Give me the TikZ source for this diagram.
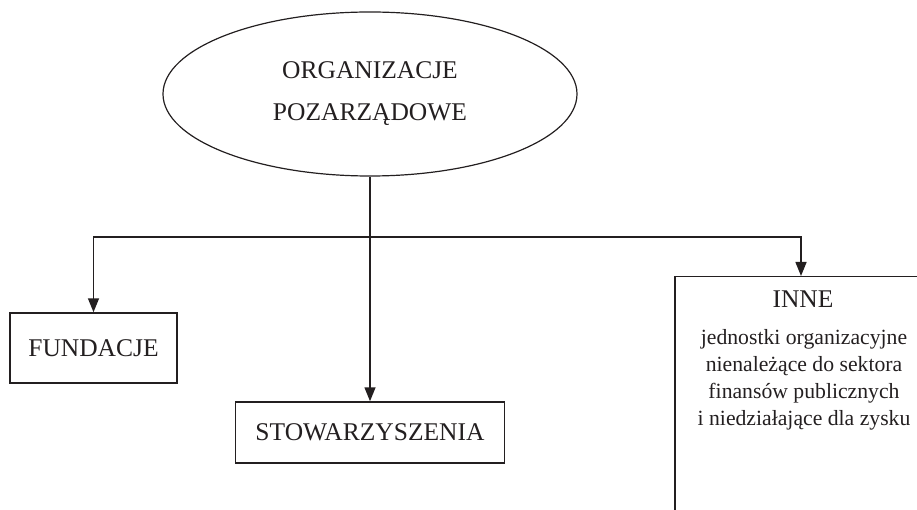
\documentclass[tikz,border=0pt]{standalone}
\usepackage{fontspec}
\setmainfont{Liberation Serif}
\usetikzlibrary{shapes.geometric,arrows.meta}
\begin{document}
\begin{tikzpicture}[x=1pt,y=-1pt,
  line width=1.5pt, draw={rgb,255:red,35;green,31;blue,32},
  bigtext/.style={font=\fontsize{25.5}{42}\selectfont, text={rgb,255:red,35;green,31;blue,32}},
  smalltext/.style={font=\fontsize{21.7}{26.7}\selectfont, text={rgb,255:red,35;green,31;blue,32}},
  catbox/.style={draw, rectangle, inner sep=0pt, bigtext},
  link/.style={-{Triangle[length=14pt,width=11pt]}}
]
\useasboundingbox (0,0) rectangle (917,510);
\clip (0,0) rectangle (917,510);

% root ellipse
\node[draw, ellipse, line width=1.2pt, minimum width=414pt, minimum height=164pt,
      inner sep=0pt, bigtext, align=center] (org) at (370,94)
  {ORGANIZACJE\\POZARZĄDOWE};

% categories
\node[catbox, minimum width=167pt, minimum height=70pt] (fund) at (93.5,348) {FUNDACJE};
\node[catbox, minimum width=269pt, minimum height=61pt] (stow) at (370,432.5) {STOWARZYSZENIA};
\node[draw, rectangle, inner sep=0pt, minimum width=252pt, minimum height=280pt,
      anchor=north] (innebox) at (801,276) {};
\node[bigtext, anchor=base, inner sep=0pt] (innetitle) at (803,307) {INNE};
\node[smalltext, anchor=base, inner sep=0pt, align=center] (innedesc) at (804,425)
  {jednostki organizacyjne\\nienależące do sektora\\finansów publicznych\\i niedziałające dla zysku};

% connectors
\coordinate (branch) at (org.south |- 0,237);
\draw[link] (org.south) -- (stow.north);
\draw[link] (branch) -| (fund.north);
\draw[link] (branch) -| (innebox.north);
\end{tikzpicture}
\end{document}
